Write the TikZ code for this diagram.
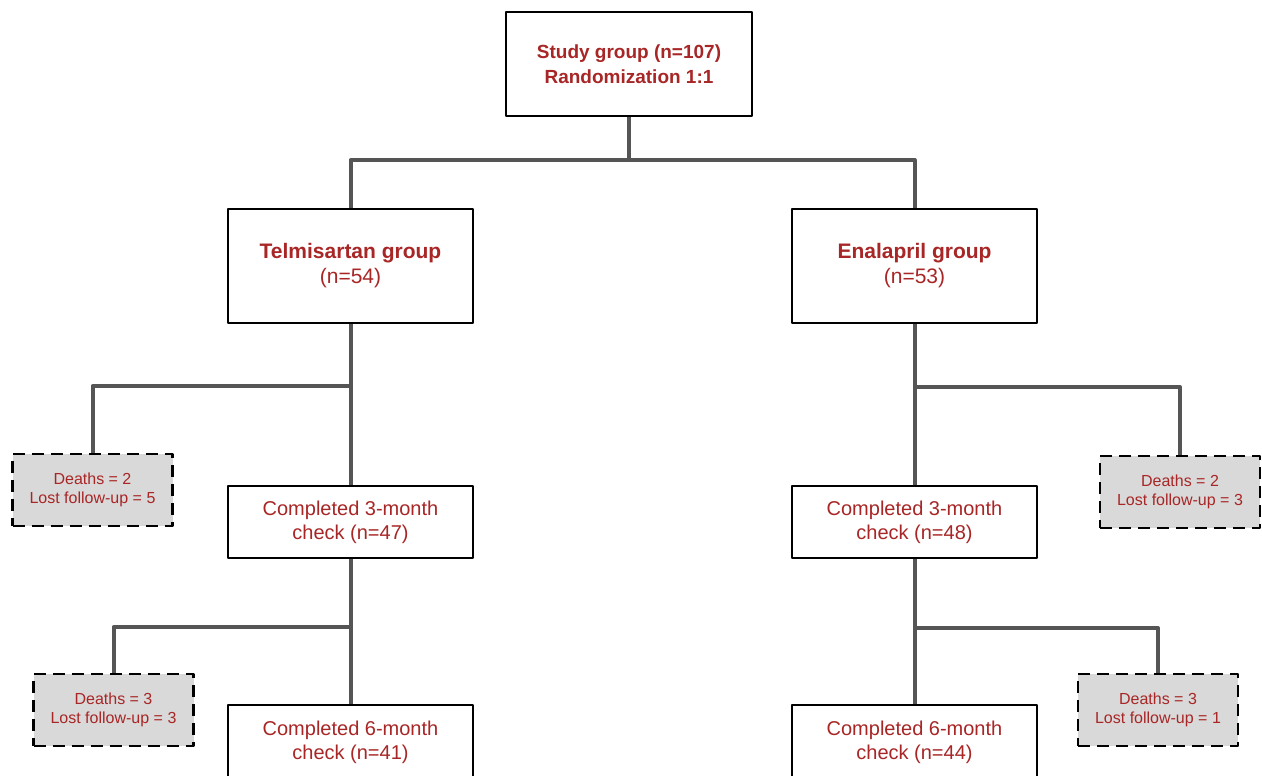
\documentclass[tikz,border=0pt]{standalone}
\usepackage{fontspec}
\setmainfont{Liberation Sans}
\usetikzlibrary{positioning}

\definecolor{txtred}{RGB}{168,38,38}
\definecolor{linegray}{RGB}{85,85,85}
\definecolor{lossgray}{RGB}{217,217,217}

\begin{document}
\begin{tikzpicture}[x=1pt, y=-1pt, line join=round,
    box/.style={draw=black, line width=2.4pt, fill=white, text=txtred,
      align=center, inner sep=0pt, minimum width=245pt,
      font=\fontsize{20}{24}\selectfont},
    lossbox/.style={draw=black, line width=2.6pt, dash pattern=on 12pt off 7pt,
      fill=lossgray, text=txtred, align=center, inner sep=0pt,
      minimum width=160pt, minimum height=72pt,
      font=\fontsize{16}{19}\selectfont},
    link/.style={draw=linegray, line width=4pt}]

    \useasboundingbox (0,0) rectangle (1262,776);

    % Boîtes principales
    \node[box, minimum width=246pt, minimum height=104pt,
      font=\fontsize{19}{25}\selectfont] (study) at (629,64)
      {\textbf{Study group (n=107)}\\\textbf{Randomization 1:1}};
    \node[box, minimum height=114pt, font=\fontsize{21}{25}\selectfont] (telmi) at (350.5,266)
      {\textbf{Telmisartan group}\\(n=54)};
    \node[box, minimum height=114pt, font=\fontsize{21}{25}\selectfont] (enala) at (914.5,266)
      {\textbf{Enalapril group}\\(n=53)};
    \node[box, minimum height=72pt] (telmiA) at (350.5,522)
      {Completed 3-month\\check (n=47)};
    \node[box, minimum height=72pt] (enalaA) at (914.5,522)
      {Completed 3-month\\check (n=48)};
    \node[box, minimum height=74pt] (telmiB) at (350.5,742)
      {Completed 6-month\\check (n=41)};
    \node[box, minimum height=74pt] (enalaB) at (914.5,742)
      {Completed 6-month\\check (n=44)};

    % Perdus de vue
    \node[lossbox] (lossTA) at (92.5,490) {Deaths = 2\\Lost follow-up = 5};
    \node[lossbox] (lossEA) at (1180,492) {Deaths = 2\\Lost follow-up = 3};
    \node[lossbox] (lossTB) at (113.5,710) {Deaths = 3\\Lost follow-up = 3};
    \node[lossbox] (lossEB) at (1158,710) {Deaths = 3\\Lost follow-up = 1};

    % Points de séparation
    \coordinate (split) at (629,160);
    \coordinate (splitTA) at (350.5,386);
    \coordinate (splitEA) at (914.5,387);
    \coordinate (splitTB) at (350.5,627);
    \coordinate (splitEB) at (914.5,628);

    \draw[link] (study.south) -- (split);
    \draw[link] (split) -| (telmi.north);
    \draw[link] (split) -| (enala.north);
    \draw[link] (telmi.south) -- (telmiA.north);
    \draw[link] (enala.south) -- (enalaA.north);
    \draw[link] (splitTA) -| (lossTA.north);
    \draw[link] (splitEA) -| (lossEA.north);
    \draw[link] (telmiA.south) -- (telmiB.north);
    \draw[link] (enalaA.south) -- (enalaB.north);
    \draw[link] (splitTB) -| (lossTB.north);
    \draw[link] (splitEB) -| (lossEB.north);

\end{tikzpicture}
\end{document}
